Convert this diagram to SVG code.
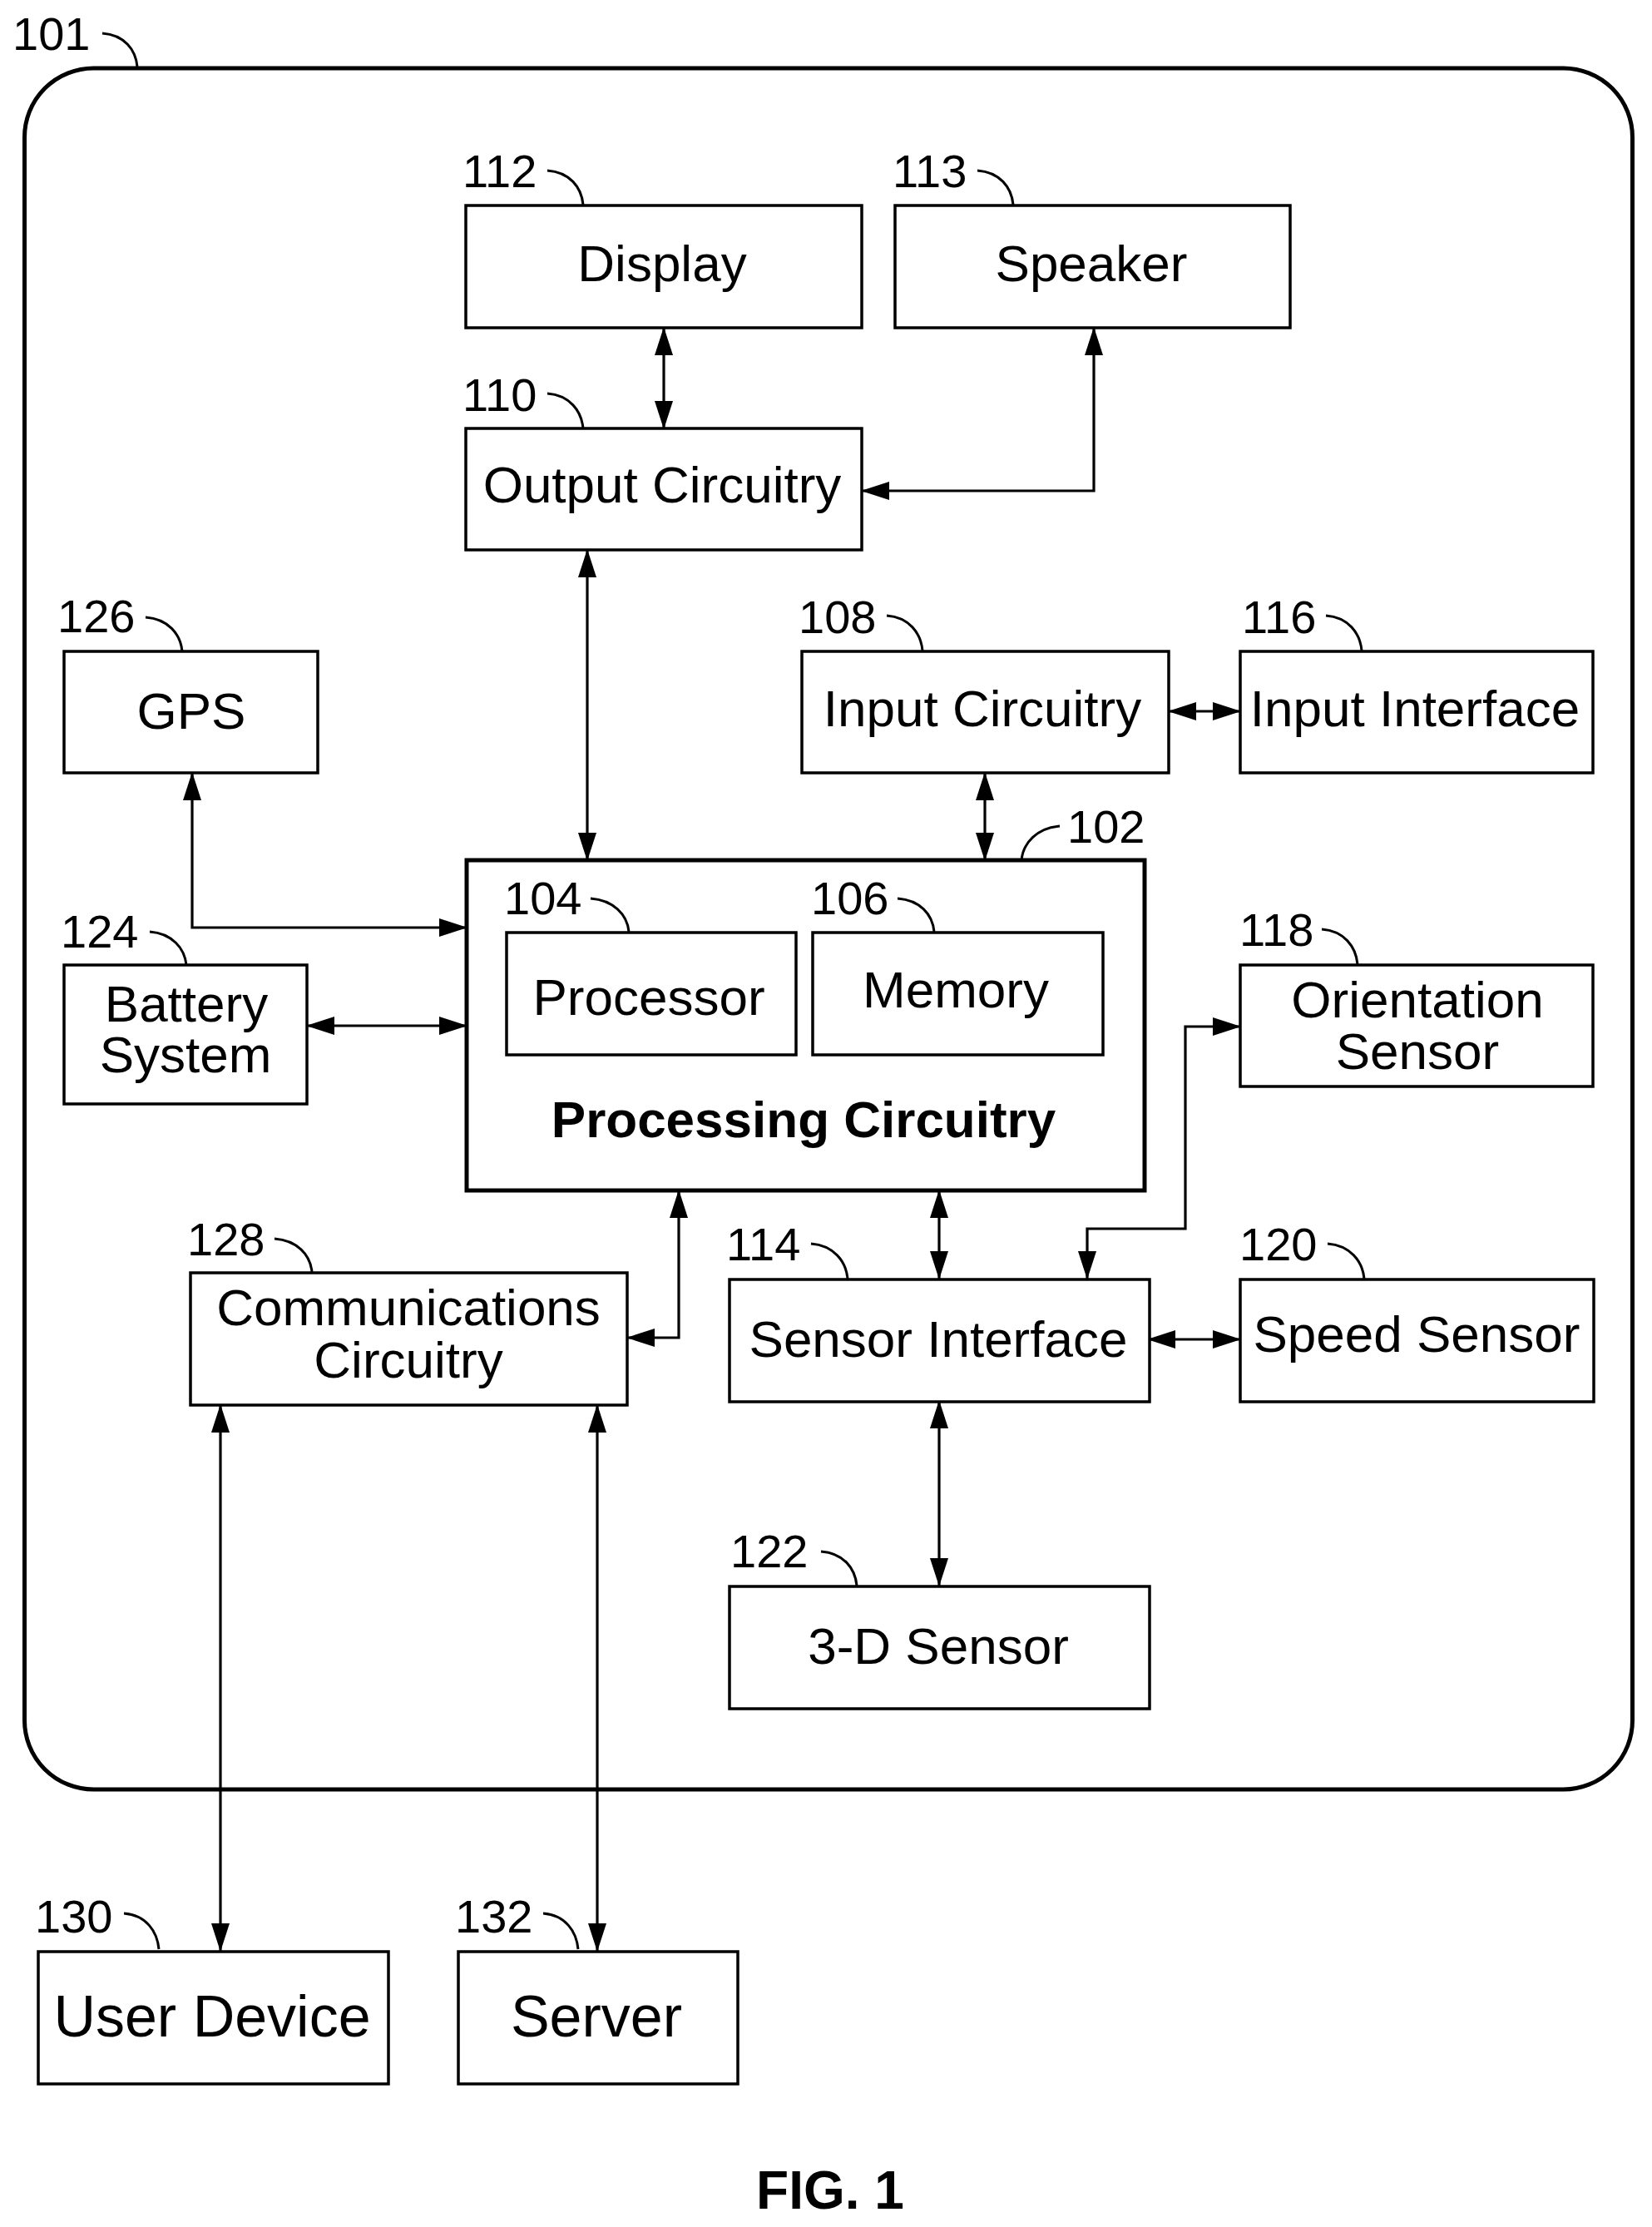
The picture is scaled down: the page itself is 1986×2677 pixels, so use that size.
<svg xmlns="http://www.w3.org/2000/svg" width="1986" height="2677" viewBox="0 0 1986 2677">
<style>
text{font-family:"Liberation Sans",Arial,sans-serif;fill:#000}
.t{font-size:62px;text-anchor:middle}
.b{font-size:62px;font-weight:bold;text-anchor:middle}
.u{font-size:70px;text-anchor:middle}
.n{font-size:56px}
.box{fill:#fff;stroke:#000;stroke-width:3.5}
.thick{fill:#fff;stroke:#000;stroke-width:5}
.lead{fill:none;stroke:#000;stroke-width:3}
.c{fill:none;stroke:#000;stroke-width:3.2}
.d{marker-start:url(#ah);marker-end:url(#ah)}
</style>
<defs>
<marker id="ah" markerUnits="userSpaceOnUse" markerWidth="34" markerHeight="24" viewBox="0 0 34 24" refX="33" refY="12" orient="auto-start-reverse"><path d="M0 1L34 12L0 23z" fill="#000"/></marker>
</defs>
<rect width="1986" height="2677" fill="#fff"/>
<g id="n101"><rect class="thick" x="29.5" y="82" width="1933" height="2069" rx="83" ry="83"/><text class="n" x="15" y="60">101</text><path class="lead" d="M123 40C150 42 163 60 165 80"/></g>
<g id="connectors">
<path class="c d" d="M798 394V515"/>
<path class="c d" d="M1315 394V590H1036"/>
<path class="c d" d="M706 661V1034"/>
<path class="c d" d="M1184 929V1034"/>
<path class="c d" d="M1405 855H1491"/>
<path class="c d" d="M231 929V1115H561"/>
<path class="c d" d="M369 1233H561"/>
<path class="c d" d="M816 1431V1608H754"/>
<path class="c d" d="M1129 1431V1537"/>
<path class="c d" d="M1307 1537V1477H1425V1234H1491"/>
<path class="c d" d="M1380 1610H1491"/>
<path class="c d" d="M1129 1684V1906"/>
<path class="c d" d="M265 1689V2345"/>
<path class="c d" d="M718 1689V2345"/>
</g>
<g id="n112"><rect class="box" x="560" y="247" width="476" height="147"/><text class="t" x="796" y="338">Display</text><text class="n" x="556" y="225">112</text><path class="lead" d="M658 205C685 207 699 225 701 246"/></g>
<g id="n113"><rect class="box" x="1076" y="247" width="475" height="147"/><text class="t" x="1312" y="338">Speaker</text><text class="n" x="1073" y="225">113</text><path class="lead" d="M1175 205C1202 207 1216 225 1218 246"/></g>
<g id="n110"><rect class="box" x="560" y="515" width="476" height="146"/><text class="t" x="796" y="604">Output Circuitry</text><text class="n" x="556" y="494">110</text><path class="lead" d="M658 473C685 475 699 494 701 515"/></g>
<g id="n126"><rect class="box" x="77" y="783" width="305" height="146"/><text class="t" x="230" y="876">GPS</text><text class="n" x="69" y="760">126</text><path class="lead" d="M175 742C202 744 217 762 219 783"/></g>
<g id="n108"><rect class="box" x="964" y="783" width="441" height="146"/><text class="t" x="1181" y="873">Input Circuitry</text><text class="n" x="960" y="761">108</text><path class="lead" d="M1066 740C1093 742 1107 761 1109 782"/></g>
<g id="n116"><rect class="box" x="1491" y="783" width="424" height="146"/><text class="t" x="1701" y="873">Input Interface</text><text class="n" x="1493" y="761">116</text><path class="lead" d="M1594 740C1621 742 1635 761 1637 782"/></g>
<g id="n102"><rect class="thick" x="561" y="1034" width="815" height="397"/><text class="b" x="966" y="1367">Processing Circuitry</text><text class="n" x="1283" y="1013">102</text><path class="lead" d="M1274 993C1247 995 1230 1013 1228 1034"/></g>
<g id="n104"><rect class="box" x="609" y="1121" width="348" height="147"/><text class="t" x="780" y="1220">Processor</text><text class="n" x="606" y="1099">104</text><path class="lead" d="M710 1080C737 1082 754 1099 756 1120"/></g>
<g id="n106"><rect class="box" x="977" y="1121" width="349" height="147"/><text class="t" x="1149" y="1211">Memory</text><text class="n" x="975" y="1099">106</text><path class="lead" d="M1079 1080C1106 1082 1121 1099 1123 1120"/></g>
<g id="n118"><rect class="box" x="1491" y="1160" width="424" height="146"/><text class="t" x="1704" y="1223">Orientation</text><text class="t" x="1704" y="1285">Sensor</text><text class="n" x="1490" y="1137">118</text><path class="lead" d="M1589 1117C1616 1119 1630 1138 1632 1159"/></g>
<g id="n124"><rect class="box" x="77" y="1160" width="292" height="167"/><text class="t" x="224" y="1228">Battery</text><text class="t" x="223" y="1289">System</text><text class="n" x="73" y="1139">124</text><path class="lead" d="M180 1120C207 1122 222 1140 224 1160"/></g>
<g id="n128"><rect class="box" x="229" y="1530" width="525" height="159"/><text class="t" x="491" y="1593">Communications</text><text class="t" x="491" y="1656">Circuitry</text><text class="n" x="225" y="1509">128</text><path class="lead" d="M330 1489C357 1491 373 1508 375 1529"/></g>
<g id="n114"><rect class="box" x="877" y="1538" width="505" height="147"/><text class="t" x="1128" y="1631">Sensor Interface</text><text class="n" x="873" y="1515">114</text><path class="lead" d="M975 1495C1002 1497 1017 1516 1019 1537"/></g>
<g id="n120"><rect class="box" x="1491" y="1538" width="425" height="147"/><text class="t" x="1703" y="1625">Speed Sensor</text><text class="n" x="1490" y="1515">120</text><path class="lead" d="M1596 1495C1623 1497 1638 1516 1640 1537"/></g>
<g id="n122"><rect class="box" x="877" y="1907" width="505" height="147"/><text class="t" x="1128" y="2000">3-D Sensor</text><text class="n" x="878" y="1884">122</text><path class="lead" d="M987 1865C1014 1867 1028 1885 1030 1906"/></g>
<g id="n130"><rect class="box" x="46" y="2346" width="421" height="159"/><text class="u" x="255" y="2448">User Device</text><text class="n" x="42" y="2323">130</text><path class="lead" d="M149 2300C176 2302 189 2322 191 2343"/></g>
<g id="n132"><rect class="box" x="551" y="2346" width="336" height="159"/><text class="u" x="717" y="2448">Server</text><text class="n" x="547" y="2323">132</text><path class="lead" d="M653 2300C680 2302 693 2322 695 2343"/></g>
<text class="b" x="998" y="2655" style="font-size:64px">FIG. 1</text>
</svg>
